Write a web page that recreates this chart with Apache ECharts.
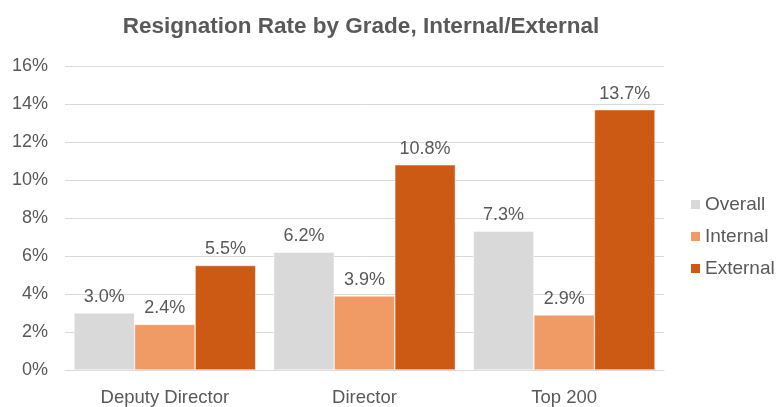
<!DOCTYPE html>
<html>
<head>
<meta charset="utf-8">
<script src="https://cdn.jsdelivr.net/npm/echarts@6/dist/echarts.min.js"></script>
<style>
  html, body { margin: 0; padding: 0; background: #fff; }
  #chart { width: 777px; height: 407px; }
</style>
</head>
<body>
<div id="chart"></div>
<script>
const grades = ['Deputy Director', 'Director', 'Top 200'];
const overall = [3.0, 6.2, 7.3];
const internal = [2.4, 3.9, 2.9];
const external = [5.5, 10.8, 13.7];

const txt = '#595959';
const font = '"Liberation Sans", Arial, sans-serif';

function bar(name, data, color) {
    return {
        name: name,
        type: 'bar',
        data: data,
        barGap: 0,
        barCategoryGap: '9%',
        itemStyle: { color: color, borderColor: '#fff', borderWidth: 0.5 },
        label: {
            show: true,
            position: 'top',
            distance: 7,
            color: txt,
            fontFamily: font,
            fontSize: 18,
            formatter: (p) => p.value.toFixed(1) + '%'
        }
    };
}

const chart = echarts.init(document.getElementById('chart'));
chart.setOption({
    animation: false,
    title: {
        text: 'Resignation Rate by Grade, Internal/External',
        left: 356,
        textAlign: 'center',
        top: 10,
        textStyle: {
            color: txt,
            fontFamily: font,
            fontWeight: 'bold',
            fontSize: 22.5
        }
    },
    legend: {
        orient: 'vertical',
        left: 684,
        top: 190,
        itemWidth: 11,
        itemHeight: 11,
        itemGap: 13,
        icon: 'rect',
        textStyle: { color: txt, fontFamily: font, fontSize: 19, lineHeight: 19, padding: [0, 0, 0, -1] },
        data: ['Overall', 'Internal', 'External']
    },
    grid: {
        left: 65,
        right: 113,
        top: 66,
        bottom: 35,
        containLabel: false
    },
    xAxis: {
        type: 'category',
        data: grades,
        axisLine: { lineStyle: { color: '#d9d9d9', width: 1 } },
        axisTick: { show: false },
        axisLabel: { color: txt, fontFamily: font, fontSize: 18.5, margin: 18 }
    },
    yAxis: {
        type: 'value',
        min: 0,
        max: 16,
        interval: 2,
        axisLine: { show: false },
        axisTick: { show: false },
        splitLine: { lineStyle: { color: '#d9d9d9', width: 1 } },
        axisLabel: {
            color: txt, fontFamily: font, fontSize: 18, margin: 17,
            formatter: '{value}%'
        }
    },
    series: [
        bar('Overall', overall, '#d9d9d9'),
        bar('Internal', internal, '#f09a66'),
        bar('External', external, '#cc5a14')
    ]
});
</script>
</body>
</html>
